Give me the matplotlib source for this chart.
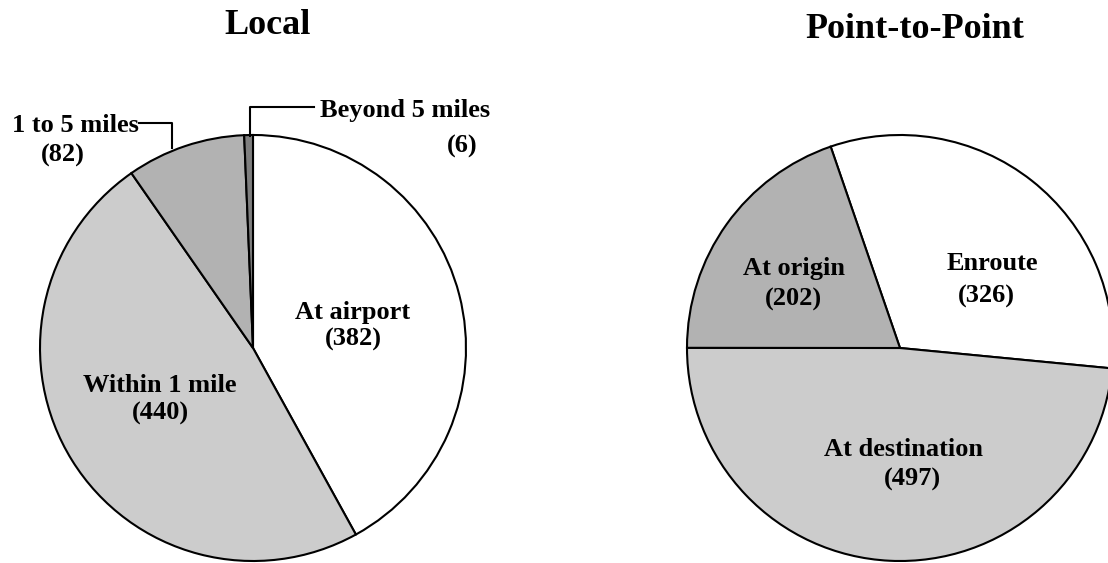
import matplotlib
matplotlib.use("Agg")
import matplotlib.pyplot as plt
from matplotlib.lines import Line2D

local_labels = ["At airport", "Within 1 mile", "1 to 5 miles", "Beyond 5 miles"]
local_values = [382, 440, 82, 6]
local_colors = ["#ffffff", "#cccccc", "#b2b2b2", "#7f7f7f"]

p2p_labels = ["Enroute", "At destination", "At origin"]
p2p_values = [326, 497, 202]
p2p_colors = ["#ffffff", "#cccccc", "#b2b2b2"]

W, H = 1108, 563
fig = plt.figure(figsize=(W / 100, H / 100), dpi=100)
plt.rcParams['font.family'] = ['Liberation Serif', 'DejaVu Serif']

R = 213

def make_ax(cx, cy):
    ax = fig.add_axes([(cx - R) / W, (H - cy - R) / H, 2 * R / W, 2 * R / H])
    ax.set_xlim(-1, 1)
    ax.set_ylim(-1, 1)
    ax.set_aspect('equal')
    ax.axis('off')
    return ax

def to_data(cx, cy, px, py):
    return (px - cx) / R, (cy - py) / R

FS = 19
wp = dict(edgecolor='black', linewidth=1.5)

def lab(ax, cx, cy, px, py, s, ha='center'):
    x, y = to_data(cx, cy, px, py)
    ax.text(x, y, s, ha=ha, va='center', fontsize=FS, fontweight='bold', clip_on=False)

# Local
cxL, cyL = 253, 348
axL = make_ax(cxL, cyL)
axL.pie(local_values, colors=local_colors, startangle=90, counterclock=False,
        radius=1, wedgeprops=wp, frame=False)
axL.set_xlim(-1, 1); axL.set_ylim(-1, 1)

lab(axL, cxL, cyL, 353, 312, local_labels[0])
lab(axL, cxL, cyL, 353, 339, f"({local_values[0]})")
lab(axL, cxL, cyL, 160, 386, local_labels[1])
lab(axL, cxL, cyL, 160, 413, f"({local_values[1]})")
lab(axL, cxL, cyL, 75, 126, local_labels[2])
lab(axL, cxL, cyL, 63, 155, f"({local_values[2]})")
lab(axL, cxL, cyL, 405, 111, local_labels[3])
lab(axL, cxL, cyL, 462, 146, f"({local_values[3]})")

# leader lines (pixel coords)
def pline(xs, ys):
    fig.add_artist(Line2D([x / W for x in xs], [(H - y) / H for y in ys],
                          color='black', linewidth=1.5))

pline([139, 172, 172], [123, 123, 148])
pline([314, 250, 250], [107, 107, 136])

fig.text(268 / W, 1 - 25 / H, "Local", ha='center', va='center', fontsize=26, fontweight='bold')

# Point-to-Point
cxR, cyR = 900, 348
axR = make_ax(cxR, cyR)
axR.pie(p2p_values, colors=p2p_colors, startangle=109, counterclock=False,
        radius=1, wedgeprops=wp, frame=False)
axR.set_xlim(-1, 1); axR.set_ylim(-1, 1)

lab(axR, cxR, cyR, 992, 264, p2p_labels[0])
lab(axR, cxR, cyR, 986, 296, f"({p2p_values[0]})")
lab(axR, cxR, cyR, 904, 449, p2p_labels[1])
lab(axR, cxR, cyR, 912, 479, f"({p2p_values[1]})")
lab(axR, cxR, cyR, 794, 268, p2p_labels[2])
lab(axR, cxR, cyR, 793, 299, f"({p2p_values[2]})")

fig.text(915 / W, 1 - 29 / H, "Point-to-Point", ha='center', va='center', fontsize=26, fontweight='bold')

fig.savefig("out.png", dpi=100)
